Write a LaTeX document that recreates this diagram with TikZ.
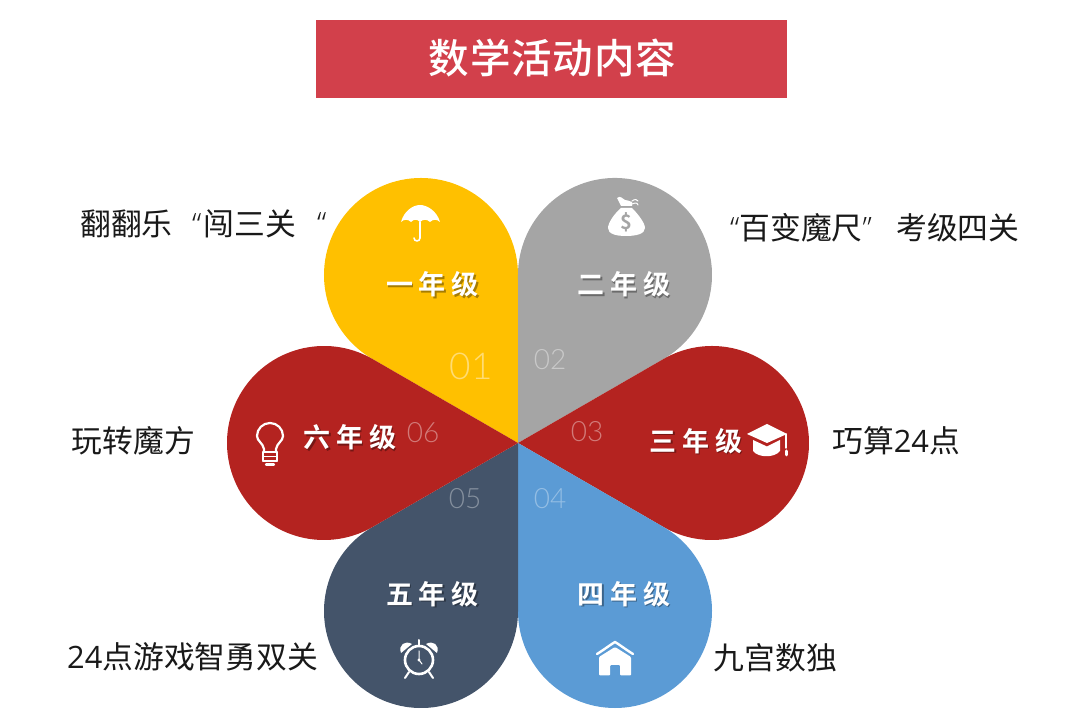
\documentclass[tikz,border=0pt]{standalone}
\usepackage{fontspec}
\setmainfont{Noto Sans CJK SC}
\newfontfamily\cjkreg{Noto Sans CJK SC}
\newfontfamily\cjkbold{Noto Sans CJK SC Bold}
\newfontfamily\cjkmed{Noto Sans CJK SC Medium}
\newfontfamily\latlight{Open Sans Light}
\newfontfamily\latreg{Open Sans}
\newfontfamily\numfont{Lato Light}
\definecolor{cyellow}{HTML}{FFC000}
\definecolor{cgray}{HTML}{A5A5A5}
\definecolor{cred}{HTML}{B42320}
\definecolor{cnavy}{HTML}{44546A}
\definecolor{cblue}{HTML}{5B9BD5}
\definecolor{ctitle}{HTML}{D2404B}
\tikzset{
  x=1pt,y=1pt,
  outer/.style={inner sep=0pt,text=black!90,font=\fontsize{30.8}{31}\selectfont\cjkreg},
  grade/.style={inner sep=0pt,text=white,font=\fontsize{27}{27}\selectfont\cjkbold\addfontfeature{LetterSpace=22}},
  gradeshadow/.style={inner sep=0pt,text=black,opacity=.35,font=\fontsize{27}{27}\selectfont\cjkbold\addfontfeature{LetterSpace=22}},
  num/.style={inner sep=0pt,font=\fontsize{28}{28}\selectfont\numfont},
  icon/.style={fill=white,draw=none},
  iconline/.style={draw=white,line width=2.2pt,fill=none,line cap=round,line join=round},
}
\newcommand{\petal}[2]{\fill[#1,shift={(518,269)},rotate=#2] (0,0) -- (145.5,-84) arc[start angle=-120,end angle=120,radius=97] -- cycle;}
\newcommand{\gradelabel}[4]{%
  \node[gradeshadow] at (#2+1.5,#3-1.5) {#4};
  \node[grade] (#1) at (#2,#3) {#4};}
\begin{document}
\begin{tikzpicture}
\useasboundingbox (0,0) rectangle (1080,712);
% title
\fill[ctitle] (316,614) rectangle (787,692);
\node[inner sep=0pt,text=white,font=\fontsize{40.5}{41}\selectfont\cjkmed\addfontfeature{LetterSpace=2}] (title) at (552.5,654) {数学活动内容};
% petals
\petal{cyellow}{120}
\petal{cgray}{60}
\petal{cred}{0}
\petal{cblue}{-60}
\petal{cnavy}{-120}
\petal{cred}{180}
% grade labels
\gradelabel{g1}{432.5}{427.5}{一年级}
\gradelabel{g2}{624}{427.5}{二年级}
\gradelabel{g3}{696}{271}{三年级}
\gradelabel{g4}{624}{118}{四年级}
\gradelabel{g5}{432.5}{118}{五年级}
\gradelabel{g6}{350}{274.5}{六年级}
% numbers
\node[num,text=cyellow!55!white,font=\fontsize{37}{37}\selectfont\numfont] (n1) at (471,346) {01};
\node[num,text=cgray!60!white] (n2) at (550,352) {02};
\node[num,text=cred!60!white] (n3) at (587,280) {03};
\node[num,text=cblue!65!white] (n4) at (550,213) {04};
\node[num,text=cnavy!65!white] (n5) at (465,213) {05};
\node[num,text=cred!60!white] (n6) at (423,279.5) {06};
% outer labels
\node[outer,anchor=west] (t1a) at (80,488) {翻翻乐};
\node[outer,anchor=west] (t1b) at (192,488) {{\latlight “}\hspace{2pt}闯三关};
\node[outer,anchor=west] (t1c) at (317,488) {\latlight “};
\node[outer,anchor=west] (t2a) at (730,484) {{\latlight “}百变魔尺{\latlight ”}};
\node[outer,anchor=west] (t2b) at (896,484) {考级四关};
\node[outer,anchor=west] (t3) at (832,271) {巧算{\latreg 24}点};
\node[outer,anchor=west] (t6) at (71.5,271) {玩转魔方};
\node[outer,anchor=west] (t5) at (67,55) {{\latreg 24}点游戏智勇双关};
\node[outer,anchor=west] (t4) at (713.5,54) {九宫数独};
% umbrella
\begin{scope}[shift={(420,490)}]
\fill[icon] (-19,0) .. controls (-16,11) and (-7,17) .. (0,17) .. controls (7,17) and (17,11) .. (20,0)
  .. controls (17,3) and (13,3) .. (10,0) .. controls (7,3) and (3,3) .. (0,0)
  .. controls (-3,3) and (-6,3) .. (-9,0) .. controls (-12,3) and (-16,3) .. (-19,0) -- cycle;
\draw[iconline,line width=1.6pt] (0,0) -- (0,-16) arc[start angle=0,end angle=-180,radius=3];
\end{scope}
% money bag
\begin{scope}[shift={(626,492)}]
\fill[icon] (-5,12) .. controls (-12,6) and (-18,-3) .. (-18,-8) .. controls (-18,-14) and (-10,-16) .. (0,-16)
  .. controls (10,-16) and (19,-14) .. (19,-8) .. controls (19,-3) and (12,6) .. (6,12) -- cycle;
\fill[icon] (-5,14) -- (-9,22) .. controls (-6,25) and (-3,21) .. (-1,20) .. controls (1,20) and (3,19) .. (6,18) -- (6,14) -- cycle;
\draw[iconline,line width=1pt] (6,16) .. controls (9,17) and (11,18) .. (12,15);
\draw[iconline,line width=1pt] (6,19) .. controls (9,21) and (11,21) .. (12,19);
\node[inner sep=0pt,text=cgray,font=\fontsize{20}{20}\selectfont\cjkbold] (dollar) at (0,-2) {\$};
\end{scope}
% graduation cap
\begin{scope}[shift={(767,278)}]
\fill[icon] (-20,0) -- (0,10) -- (20,0) -- (0,-9) -- cycle;
\fill[icon] (-14,-6) -- (0,-12.5) -- (13,-6) -- (13,-17) .. controls (8,-24) and (-9,-24) .. (-14,-17) -- cycle;
\draw[iconline,line width=1.4pt] (19,0) -- (19,-14);
\draw[iconline,line width=3pt] (19,-17) -- (19,-21);
\end{scope}
% light bulb
\begin{scope}[shift={(270,275)}]
\draw[iconline] (-6,-15) -- (-6,-12) .. controls (-7,-6) and (-13,-4) .. (-13,1) arc[start angle=180,end angle=0,radius=13] .. controls (13,-4) and (7,-6) .. (6,-12) -- (6,-15);
\draw[iconline,line width=1.6pt] (-7,-15) -- (7,-15) (-7,-19.5) -- (7,-19.5) (-7,-24) -- (7,-24);
\draw[iconline,line width=1.6pt] (-7,-15) -- (-7,-24) (7,-15) -- (7,-24);
\draw[iconline] (-4,-27.5) -- (4,-27.5);
\end{scope}
% alarm clock
\begin{scope}[shift={(419,52)}]
\draw[iconline,line width=2.6pt] (0,0) circle[radius=14];
\fill[icon] (-18,7) .. controls (-21,15) and (-14,20) .. (-7,16) -- cycle;
\fill[icon] (18,7) .. controls (21,15) and (14,20) .. (7,16) -- cycle;
\draw[iconline,line width=2pt] (0,14) -- (0,20);
\draw[iconline,line width=2pt] (-10,-12) -- (-14,-18) (10,-12) -- (14,-18);
\draw[iconline,line width=1pt] (0,9) -- (0,0) -- (3,-4);
\fill[icon] (0,0) circle[radius=1.6];
\end{scope}
% house
\begin{scope}[shift={(615,70)}]
\draw[iconline,line width=2.4pt] (-18,-12) .. controls (-10,-7) and (-5,-3) .. (0,0) .. controls (5,-3) and (10,-7) .. (18,-12);
\fill[icon,rounded corners=1pt] (0,-5) -- (-16,-15) -- (-16,-33.5) -- (-5,-33.5) -- (-5,-23) -- (5,-23) -- (5,-33.5) -- (16,-33.5) -- (16,-15) -- cycle;
\end{scope}
\end{tikzpicture}
\end{document}
